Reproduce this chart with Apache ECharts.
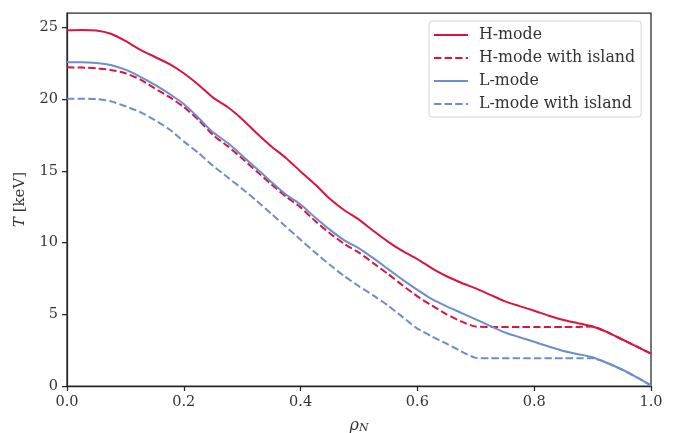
<!DOCTYPE html>
<html>
<head>
<meta charset="utf-8">
<script src="https://cdn.jsdelivr.net/npm/echarts@6/dist/echarts.min.js"></script>
<style>
  html, body { margin: 0; padding: 0; background: #fff; }
  #chart { width: 679px; height: 433px; }
</style>
</head>
<body>
<div id="chart"></div>
<script>
// 温度剖面 T(rho_N)
const rho = [0, 0.025, 0.05, 0.075, 0.1, 0.125, 0.15, 0.175, 0.2, 0.225, 0.25, 0.275, 0.3, 0.325, 0.35, 0.375, 0.4,
    0.425, 0.45, 0.475, 0.5, 0.525, 0.55, 0.575, 0.6, 0.625, 0.65, 0.675, 0.7, 0.725, 0.75, 0.775, 0.8,
    0.825, 0.85, 0.875, 0.9, 0.925, 0.95, 0.975, 1.0]

const hMode = [24.80, 24.82, 24.78, 24.55, 24.05, 23.45, 22.95, 22.45, 21.80, 21.00, 20.10, 19.45, 18.60, 17.62, 16.70, 15.90, 14.95,
    14.05, 13.05, 12.25, 11.60, 10.80, 10.05, 9.40, 8.85, 8.20, 7.65, 7.20, 6.80, 6.35, 5.90, 5.57, 5.25,
    4.90, 4.60, 4.38, 4.15, 3.75, 3.26, 2.76, 2.26]

const hModeIsland = [22.21, 22.20, 22.15, 22.03, 21.80, 21.38, 20.75, 20.15, 19.45, 18.55, 17.50, 16.72, 15.85, 14.95, 14.05, 13.20, 12.45,
    11.50, 10.65, 9.90, 9.30, 8.55, 7.80, 7.00, 6.25, 5.60, 5.00, 4.50, 4.14, 4.12, 4.12, 4.12, 4.12,
    4.12, 4.12, 4.12, 4.15, 3.75, 3.26, 2.76, 2.26]

const lMode = [22.56, 22.57, 22.52, 22.38, 22.05, 21.57, 21.00, 20.37, 19.65, 18.70, 17.68, 16.95, 16.05, 15.15, 14.22, 13.35, 12.65,
    11.75, 10.90, 10.15, 9.60, 8.90, 8.15, 7.40, 6.70, 6.05, 5.55, 5.10, 4.65, 4.18, 3.73, 3.40, 3.08,
    2.75, 2.44, 2.22, 2.00, 1.60, 1.15, 0.62, 0.05]

const lModeIsland = [20.02, 20.03, 20.00, 19.85, 19.50, 19.10, 18.55, 17.90, 17.05, 16.25, 15.35, 14.55, 13.75, 12.90, 12.00, 11.10, 10.20,
    9.30, 8.45, 7.65, 6.95, 6.30, 5.60, 4.80, 4.00, 3.45, 2.95, 2.42, 1.96, 1.93, 1.93, 1.93, 1.93,
    1.93, 1.93, 1.93, 1.93, 1.60, 1.15, 0.62, 0.05]

const xTicks = [0, 0.2, 0.4, 0.6, 0.8, 1.0]
const yTicks = [0, 5, 10, 15, 20, 25]

const RED = '#dc143c'
const BLUE = '#6a8ecf'
const FONT = 'DejaVu Serif'
const AXIS = '#262626'

function pairs(ys) {
    return rho.map((x, i) => [x, ys[i]])
}

function line(name, ys, color, dashed) {
    return {
        name: name,
        type: 'line',
        data: pairs(ys),
        symbol: 'none',
        smooth: 0.2,
        lineStyle: {
            color: color,
            width: 2,
            type: dashed ? [7.4, 3.2] : 'solid'
        },
        itemStyle: { color: color }
    }
}

;(function () {
    const myChart = echarts.init(document.getElementById('chart'), null, { renderer: 'canvas' })
    const axisCommon = {
        axisLine: { show: true, lineStyle: { color: AXIS, width: 1.25 } },
        axisTick: { show: true, inside: false, length: 5, lineStyle: { color: AXIS, width: 1.25 } },
        splitLine: { show: false },
        axisLabel: { color: '#333', fontFamily: FONT, fontSize: 14.5 }
    }
    const option = {
        animation: false,
        backgroundColor: '#fff',
        grid: {
            left: 67, right: 28, top: 13, bottom: 47,
            outerBoundsMode: 'none',
            show: true,
            borderColor: AXIS,
            borderWidth: 1.25
        },
        legend: {
            orient: 'vertical',
            left: 429,
            top: 21,
            padding: [6, 6, 5, 4],
            itemWidth: 34,
            itemHeight: 14,
            itemGap: 7,
            backgroundColor: 'rgba(255,255,255,0.8)',
            borderColor: '#d3d3d3',
            borderWidth: 1,
            borderRadius: 3,
            // 只显示线段，不显示拐点圆圈
            itemStyle: { color: 'rgba(0,0,0,0)', borderColor: 'rgba(0,0,0,0)', borderWidth: 0, opacity: 0 },
            textStyle: { color: '#333', fontFamily: FONT, fontSize: 15.8, padding: [0, 0, 0, 6] }
        },
        xAxis: {
            type: 'value',
            min: 0,
            max: 1,
            ...axisCommon,
            axisTick: { ...axisCommon.axisTick, customValues: xTicks },
            axisLabel: {
                ...axisCommon.axisLabel,
                margin: 9,
                customValues: xTicks,
                formatter: v => v.toFixed(1)
            },
            name: '{i|ρ}{s|N}',
            nameLocation: 'middle',
            nameGap: 31,
            nameTextStyle: {
                rich: {
                    i: { fontFamily: FONT, fontStyle: 'italic', fontSize: 16, color: '#333' },
                    s: { fontFamily: FONT, fontStyle: 'italic', fontSize: 11, color: '#333', padding: [6, 0, 0, 0] }
                }
            }
        },
        yAxis: {
            type: 'value',
            min: 0,
            max: 26.0,
            ...axisCommon,
            axisTick: { ...axisCommon.axisTick, customValues: yTicks },
            axisLabel: {
                ...axisCommon.axisLabel,
                margin: 9,
                customValues: yTicks
            },
            name: '{i|T} [keV]',
            nameLocation: 'middle',
            nameRotate: 90,
            nameGap: 39,
            nameTextStyle: {
                color: '#333',
                fontFamily: FONT,
                fontSize: 15,
                rich: {
                    i: { fontFamily: FONT, fontStyle: 'italic', fontSize: 15, color: '#333' }
                }
            }
        },
        series: [
            line('H-mode', hMode, RED, false),
            line('H-mode with island', hModeIsland, RED, true),
            line('L-mode', lMode, BLUE, false),
            line('L-mode with island', lModeIsland, BLUE, true)
        ]
    }
    myChart.setOption(option)
})()
</script>
</body>
</html>
